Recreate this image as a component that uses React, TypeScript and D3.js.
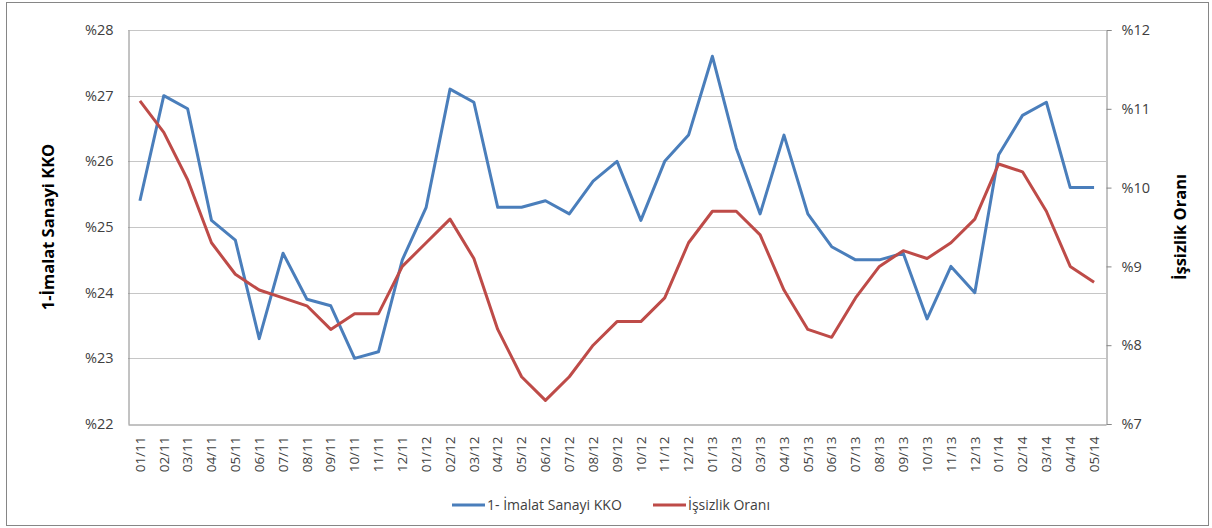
import React, { useEffect, useRef } from "react";
import * as d3 from "d3";

const months = [
  "01/11", "02/11", "03/11", "04/11", "05/11", "06/11", "07/11", "08/11", "09/11", "10/11", "11/11", "12/11",
  "01/12", "02/12", "03/12", "04/12", "05/12", "06/12", "07/12", "08/12", "09/12", "10/12", "11/12", "12/12",
  "01/13", "02/13", "03/13", "04/13", "05/13", "06/13", "07/13", "08/13", "09/13", "10/13", "11/13", "12/13",
  "01/14", "02/14", "03/14", "04/14", "05/14",
];

// kapasite kullanım oranı (sol eksen)
const kko = [
  25.4, 27.0, 26.8, 25.1, 24.8, 23.3, 24.6, 23.9, 23.8, 23.0, 23.1, 24.5,
  25.3, 27.1, 26.9, 25.3, 25.3, 25.4, 25.2, 25.7, 26.0, 25.1, 26.0, 26.4,
  27.6, 26.2, 25.2, 26.4, 25.2, 24.7, 24.5, 24.5, 24.6, 23.6, 24.4, 24.0,
  26.1, 26.7, 26.9, 25.6, 25.6,
];

// işsizlik oranı (sağ eksen)
const issizlik = [
  11.1, 10.7, 10.1, 9.3, 8.9, 8.7, 8.6, 8.5, 8.2, 8.4, 8.4, 9.0,
  9.3, 9.6, 9.1, 8.2, 7.6, 7.3, 7.6, 8.0, 8.3, 8.3, 8.6, 9.3,
  9.7, 9.7, 9.4, 8.7, 8.2, 8.1, 8.6, 9.0, 9.2, 9.1, 9.3, 9.6,
  10.3, 10.2, 9.7, 9.0, 8.8,
];

const leftTicks = [22, 23, 24, 25, 26, 27, 28];
const rightTicks = [7, 8, 9, 10, 11, 12];

const BLUE = "#4a7ebb";
const RED = "#be4b48";
const FONT = "'Open Sans', 'DejaVu Sans', sans-serif";

export default function App() {
  const ref = useRef<SVGSVGElement>(null);

  useEffect(() => {
    const svg = d3.select(ref.current);
    svg.selectAll("*").remove();

    const width = 1212;
    const height = 528;
    const m = { top: 30, right: 106, bottom: 104, left: 128 };

    // outer frame
    svg.append("rect")
      .attr("x", 6.5).attr("y", 2.5)
      .attr("width", 1202).attr("height", 523)
      .attr("fill", "#fff").attr("stroke", "#868686");

    const x = d3.scaleBand().domain(months).range([m.left, width - m.right]);
    const yL = d3.scaleLinear().domain([22, 28]).range([height - m.bottom, m.top]);
    const yR = d3.scaleLinear().domain([7, 12]).range([height - m.bottom, m.top]);
    const cx = (d: string) => (x(d) as number) + x.bandwidth() / 2;

    // gridlines
    svg.append("g")
      .selectAll("line")
      .data(leftTicks.slice(1))
      .join("line")
      .attr("x1", m.left).attr("x2", width - m.right)
      .attr("y1", (d) => Math.round(yL(d)) + 0.5).attr("y2", (d) => Math.round(yL(d)) + 0.5)
      .attr("stroke", "#c6c6c6").attr("stroke-width", 1.2);

    // left axis
    const gl = svg.append("g").attr("transform", `translate(${m.left + 0.5},0)`)
      .call(d3.axisLeft(yL).tickValues(leftTicks).tickSize(0).tickPadding(15).tickFormat((d) => `%${d}`));
    gl.select(".domain").attr("stroke", "#868686");
    gl.selectAll("text").attr("font-family", FONT).attr("font-size", 14.5).attr("fill", "#404040");

    // right axis
    const gr = svg.append("g").attr("transform", `translate(${width - m.right + 0.5},0)`)
      .call(d3.axisRight(yR).tickValues(rightTicks).tickSize(5).tickPadding(10).tickFormat((d) => `%${d}`));
    gr.selectAll(".domain").attr("stroke", "#868686");
    gr.selectAll("line").attr("stroke", "#868686");
    gr.selectAll("text").attr("font-family", FONT).attr("font-size", 14.5).attr("fill", "#404040");

    // bottom axis
    const gb = svg.append("g").attr("transform", `translate(0,${height - m.bottom + 0.5})`)
      .call(d3.axisBottom(x).tickSize(0).tickPadding(0));
    gb.select(".domain").attr("stroke", "#868686");
    gb.selectAll("text")
      .attr("font-family", FONT).attr("font-size", 13.5).attr("fill", "#404040")
      .attr("transform", "rotate(-90)")
      .attr("text-anchor", "end")
      .attr("x", -12).attr("y", 0).attr("dy", "0.35em");

    // lines
    const lineL = d3.line<number>().x((_, i) => cx(months[i])).y((d) => yL(d));
    const lineR = d3.line<number>().x((_, i) => cx(months[i])).y((d) => yR(d));
    svg.append("path").datum(kko).attr("d", lineL)
      .attr("fill", "none").attr("stroke", BLUE).attr("stroke-width", 3).attr("stroke-linejoin", "round");
    svg.append("path").datum(issizlik).attr("d", lineR)
      .attr("fill", "none").attr("stroke", RED).attr("stroke-width", 3).attr("stroke-linejoin", "round");

    // axis titles
    svg.append("text")
      .attr("transform", `translate(54,${(m.top + height - m.bottom) / 2}) rotate(-90)`)
      .attr("text-anchor", "middle")
      .attr("font-family", FONT).attr("font-size", 16.5).attr("font-weight", "bold")
      .text("1-İmalat Sanayi KKO");
    svg.append("text")
      .attr("transform", `translate(1186,${(m.top + height - m.bottom) / 2}) rotate(-90)`)
      .attr("text-anchor", "middle")
      .attr("font-family", FONT).attr("font-size", 16.5).attr("font-weight", "bold")
      .text("İşsizlik Oranı");

    // legend
    const legend = [
      { label: "1- İmalat Sanayi KKO", color: BLUE, x: 452 },
      { label: "İşsizlik Oranı", color: RED, x: 653 },
    ];
    const lg = svg.append("g").selectAll("g").data(legend).join("g")
      .attr("transform", (d) => `translate(${d.x},505)`);
    lg.append("line").attr("x1", 0).attr("x2", 33).attr("stroke", (d) => d.color).attr("stroke-width", 3);
    lg.append("text").attr("x", 35).attr("dy", "0.35em")
      .attr("font-family", FONT).attr("font-size", 14).attr("fill", "#404040")
      .text((d) => d.label);
  }, []);

  return (
    <svg ref={ref} width={1212} height={528}
      style={{ position: "absolute", left: 0, top: 0, background: "#fff" }} />
  );
}
